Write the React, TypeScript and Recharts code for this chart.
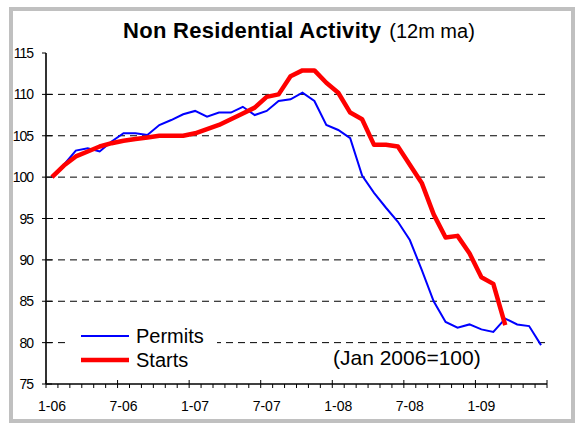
import React from 'react'
import { LineChart, Line, XAxis, YAxis, ReferenceLine, Legend } from 'recharts'

const months = [
  '1-06', '2-06', '3-06', '4-06', '5-06', '6-06', '7-06', '8-06', '9-06', '10-06', '11-06', '12-06',
  '1-07', '2-07', '3-07', '4-07', '5-07', '6-07', '7-07', '8-07', '9-07', '10-07', '11-07', '12-07',
  '1-08', '2-08', '3-08', '4-08', '5-08', '6-08', '7-08', '8-08', '9-08', '10-08', '11-08', '12-08',
  '1-09', '2-09', '3-09', '4-09', '5-09', '6-09',
]

const permits = [
  100, 101.5, 103.2, 103.5, 103.1, 104.3, 105.3, 105.3, 105.1, 106.3, 106.9, 107.6,
  108.0, 107.3, 107.8, 107.8, 108.5, 107.5, 108.0, 109.2, 109.4, 110.2, 109.2, 106.3,
  105.7, 104.7, 100.2, 98.1, 96.3, 94.6, 92.4, 88.8, 85.0, 82.5, 81.8, 82.2,
  81.6, 81.3, 82.9, 82.2, 82.0, 79.7,
]

const starts = [
  100, 101.4, 102.5, 103.1, 103.7, 104.1, 104.4, 104.6, 104.8, 105, 105, 105,
  105.3, 105.8, 106.3, 107.0, 107.7, 108.4, 109.7, 110.0, 112.2, 112.9, 112.9, 111.4,
  110.2, 107.8, 107.0, 103.9, 103.9, 103.7, 101.5, 99.3, 95.5, 92.7, 92.9, 90.8,
  87.9, 87.1, 82.1,
]

const yTicks = [75, 80, 85, 90, 95, 100, 105, 110, 115]
const gridLines = [80, 85, 90, 95, 100, 105, 110]

const data = months.map((m, i) => ({
  month: m,
  permits: permits[i],
  starts: i < starts.length ? starts[i] : null,
}))

const FONT = '"Liberation Sans", Arial, sans-serif'
const W = 575
const H = 424
const PLOT_LEFT = 46
const PLOT_RIGHT = 547
const BAND = (PLOT_RIGHT - PLOT_LEFT) / months.length

const widths: Record<string, number> = { Permits: 2, Starts: 4.5 }

function XTick(props: any) {
  const { x, y, index, payload } = props
  const left = x - BAND / 2
  const major = index % 6 === 0
  const last = index === months.length - 1
  return (
    <g>
      <line x1={left} x2={left} y1={major ? y - 4 : y} y2={y + 4} stroke="#000" strokeWidth={1} />
      {last && <line x1={x + BAND / 2} x2={x + BAND / 2} y1={y - 4} y2={y + 4} stroke="#000" strokeWidth={1} />}
      {major && (
        <text x={x} y={y + 27} textAnchor="middle" fontSize={14} fontFamily={FONT} fill="#000">
          {payload.value}
        </text>
      )}
    </g>
  )
}

function YTick(props: any) {
  const { x, y, payload } = props
  return (
    <g>
      <line x1={x - 4} x2={payload.value === 115 ? x : x + 6} y1={y} y2={y} stroke="#000" strokeWidth={1} />
      <text x={x - 13} y={y + 5} textAnchor="end" fontSize={14} letterSpacing={-1} fontFamily={FONT} fill="#000">
        {payload.value}
      </text>
    </g>
  )
}

function LegendBox(props: any) {
  const { payload } = props
  return (
    <div style={{ background: '#fff', width: 152, paddingLeft: 16, boxSizing: 'border-box', fontFamily: FONT }}>
      {(payload || []).map((p: any) => (
        <div key={p.value} style={{ display: 'flex', alignItems: 'center', height: 24 }}>
          <svg width={48} height={10} style={{ display: 'block' }}>
            <line x1={0} x2={48} y1={5} y2={5} stroke={p.color} strokeWidth={widths[p.value] || 2} />
          </svg>
          <span style={{ marginLeft: 7, fontSize: 20, lineHeight: '24px', color: '#000' }}>{p.value}</span>
        </div>
      ))}
    </div>
  )
}

export default function App() {
  return (
    <div style={{ position: 'absolute', left: 0, top: 0, width: W, height: H, background: '#fff' }}>
      <div
        style={{
          position: 'absolute', left: 9, top: 7, width: 566, height: 416,
          border: '4px solid #c0c0c0', boxSizing: 'border-box',
        }}
      />
      <div
        style={{
          position: 'absolute', left: 123, top: 18, lineHeight: '26px', whiteSpace: 'nowrap',
          fontFamily: FONT, color: '#000',
        }}
      >
        <span style={{ fontWeight: 'bold', fontSize: 22, letterSpacing: 0.3 }}>Non Residential Activity</span>
        <span style={{ fontSize: 20, marginLeft: 8 }}>(12m ma)</span>
      </div>
      <LineChart
        width={W}
        height={H}
        data={data}
        margin={{ top: 53, right: 28, bottom: 10, left: 0 }}
        style={{ position: 'absolute', left: 0, top: 0 }}
      >
        <XAxis
          dataKey="month"
          scale="band"
          interval={0}
          height={30}
          tickSize={0}
          tickMargin={0}
          tickLine={false}
          tick={<XTick />}
          axisLine={{ stroke: '#000', strokeWidth: 1.5 }}
        />
        <XAxis
          xAxisId="top"
          dataKey="month"
          orientation="top"
          scale="band"
          height={0}
          tick={false}
          tickLine={false}
          axisLine={{ stroke: '#808080', strokeWidth: 2 }}
        />
        <YAxis
          domain={[75, 115]}
          ticks={yTicks}
          interval={0}
          width={46}
          tickSize={0}
          tickMargin={0}
          tickLine={false}
          tick={<YTick />}
          axisLine={{ stroke: '#333', strokeWidth: 2 }}
        />
        <YAxis
          yAxisId="right"
          orientation="right"
          domain={[75, 115]}
          width={0}
          tick={false}
          tickLine={false}
          axisLine={{ stroke: '#808080', strokeWidth: 2 }}
        />
        {gridLines.map(v => (
          <ReferenceLine key={v} y={v} stroke="#000" strokeWidth={1} strokeDasharray="7 5" />
        ))}
        <Legend
          layout="vertical"
          align="center"
          verticalAlign="middle"
          content={<LegendBox />}
          wrapperStyle={{ position: 'absolute', left: 65, top: 324, width: 152, height: 48 }}
        />
        <Line
          dataKey="permits"
          name="Permits"
          type="linear"
          stroke="#0000ff"
          strokeWidth={2}
          dot={false}
          isAnimationActive={false}
        />
        <Line
          dataKey="starts"
          name="Starts"
          type="linear"
          stroke="#ff0000"
          strokeWidth={4.5}
          strokeLinejoin="round"
          dot={false}
          isAnimationActive={false}
        />
      </LineChart>
      <div
        style={{
          position: 'absolute', left: 333, top: 346, lineHeight: '24px', whiteSpace: 'nowrap',
          fontFamily: FONT, fontSize: 21, color: '#000',
        }}
      >
        (Jan 2006=100)
      </div>
    </div>
  )
}
